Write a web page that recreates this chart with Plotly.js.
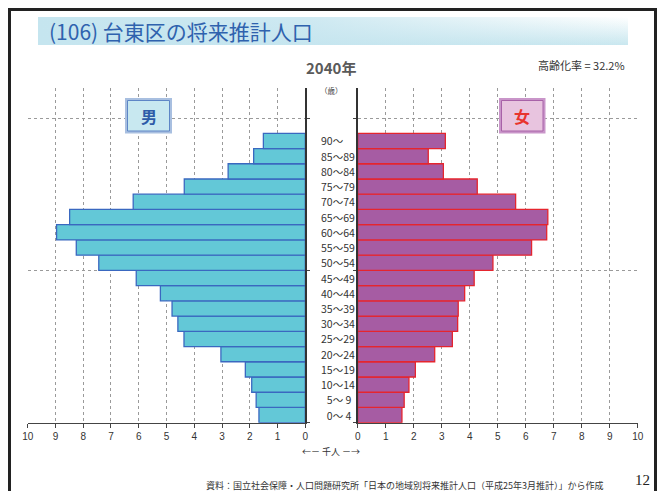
<!DOCTYPE html>
<html>
<head>
<meta charset="utf-8">
<script src="https://cdn.plot.ly/plotly-3.0.1.min.js"></script>
<style>
  html, body { margin: 0; padding: 0; background: #ffffff; }
  #wrap { position: relative; width: 668px; height: 491px; overflow: hidden; }
  #banner { position: absolute; left: 38px; top: 17px; width: 590px; height: 28px;
    background: linear-gradient(to right, #C5E5EF 0%, rgba(197,229,239,0.85) 45%, rgba(197,229,239,0) 100%),
                linear-gradient(to bottom, #FFFFFF 0%, #C9E7EF 100%); }
  #chart { position: absolute; left: 0; top: 0; width: 668px; height: 491px; }
</style>
</head>
<body>
<div id="wrap">
  <div id="banner"></div>
  <div id="chart"></div>
</div>
<script>
// ---- data ----
const ageGroups = ['0～ 4','5～ 9','10～14','15～19','20～24','25～29','30～34','35～39','40～44','45～49',
                   '50～54','55～59','60～64','65～69','70～74','75～79','80～84','85～89','90～'];
const maleValues = [1.67,1.77,1.93,2.16,3.04,4.37,4.59,4.80,5.22,6.09,
                    7.44,8.25,8.96,8.49,6.20,4.36,2.78,1.86,1.51];
const femaleValues = [1.58,1.66,1.83,2.06,2.75,3.38,3.57,3.59,3.82,4.16,
                      4.83,6.21,6.75,6.79,5.64,4.27,3.06,2.52,3.13];
const xTickValues = [0,1,2,3,4,5,6,7,8,9,10];
const titleText = '(106) 台東区の将来推計人口';
const yearText = '2040年';
const agingText = '高齢化率 = 32.2%';
const sourceText = '資料：国立社会保障・人口問題研究所「日本の地域別将来推計人口（平成25年3月推計）」から作成';
const pageNumber = '12';

// ---- helpers ----
const W = 668, H = 491;
const px = x => x / W;
const py = y => 1 - y / H;
const yIdx = ageGroups.map((_, i) => i);
const jp = '"Noto Sans CJK JP", sans-serif';
const num = '"Liberation Sans Narrow", "Liberation Sans", Arial, sans-serif';

const traces = [
  { type: 'bar', orientation: 'h', x: maleValues, y: yIdx, xaxis: 'x', yaxis: 'y',
    width: 1, marker: { color: '#63C8D7', line: { color: '#3A68C0', width: 1.3 } },
    hoverinfo: 'none', showlegend: false },
  { type: 'bar', orientation: 'h', x: femaleValues, y: yIdx, xaxis: 'x2', yaxis: 'y2',
    width: 1, marker: { color: '#A65CA3', line: { color: '#E5252E', width: 1.3 } },
    hoverinfo: 'none', showlegend: false }
];

const xCommon = {
  tickvals: xTickValues, ticktext: xTickValues.map(String),
  showgrid: true, gridcolor: '#9a9a9a', griddash: 'dot', gridwidth: 1,
  showline: true, linecolor: '#444', linewidth: 1.5,
  ticks: 'outside', ticklen: 4, tickcolor: '#444', tickwidth: 1,
  tickfont: { family: num, size: 10, color: '#333' },
  zeroline: false, fixedrange: true, automargin: false
};
const yCommon = {
  range: [-0.5, 21.5], tickvals: [-0.5, 9.5, 19.5], showticklabels: false,
  showgrid: true, gridcolor: '#9a9a9a', griddash: 'dot', gridwidth: 1,
  showline: true, linecolor: '#333', linewidth: 1.5,
  ticks: 'outside', ticklen: 3, tickcolor: '#444',
  zeroline: false, fixedrange: true, automargin: false,
  domain: [py(422.7), py(87.6)]
};

const annotations = [
  { text: titleText, x: px(47), y: py(31), xref: 'paper', yref: 'paper', xanchor: 'left', yanchor: 'middle',
    showarrow: false, font: { family: jp, size: 21, color: '#2F62AE' } },
  { text: '<b>' + yearText + '</b>', x: px(331), y: py(67), xref: 'paper', yref: 'paper', xanchor: 'center', yanchor: 'middle',
    showarrow: false, font: { family: jp, size: 15, color: '#5a5a5a' } },
  { text: agingText, x: px(627), y: py(65), xref: 'paper', yref: 'paper', xanchor: 'right', yanchor: 'middle',
    showarrow: false, font: { family: jp, size: 11, color: '#333333' } },
  { text: '（歳）', x: px(331), y: py(91), xref: 'paper', yref: 'paper', xanchor: 'center', yanchor: 'middle',
    showarrow: false, font: { family: jp, size: 7.5, color: '#444' } },
  { text: '←－ 千人 －→', x: px(331), y: py(451), xref: 'paper', yref: 'paper', xanchor: 'center', yanchor: 'middle',
    showarrow: false, font: { family: jp, size: 9, color: '#333' } },
  { text: sourceText, x: px(606), y: py(485), xref: 'paper', yref: 'paper', xanchor: 'right', yanchor: 'middle',
    showarrow: false, font: { family: jp, size: 9, color: '#333' } },
  { text: pageNumber, x: px(652), y: py(480), xref: 'paper', yref: 'paper', xanchor: 'right', yanchor: 'middle',
    showarrow: false, font: { family: '"Liberation Serif", serif', size: 15, color: '#222' } },
  { text: '<b>男</b>', x: px(148.5), y: py(116), xref: 'paper', yref: 'paper', xanchor: 'center', yanchor: 'middle',
    showarrow: false, font: { family: jp, size: 16, color: '#2E5CA8' } },
  { text: '<b>女</b>', x: px(522), y: py(116), xref: 'paper', yref: 'paper', xanchor: 'center', yanchor: 'middle',
    showarrow: false, font: { family: jp, size: 16, color: '#E8342E' } }
];
// age labels between the panels, positioned on the y axis scale
ageGroups.forEach((g, i) => {
  const single = /^\d～/.test(g);
  annotations.push({ text: (single ? '\u2007' : '') + g, x: px(319), y: i, xref: 'paper', yref: 'y',
    xanchor: 'left', yanchor: 'middle', showarrow: false,
    font: { family: jp, size: 10.5, color: '#333' } });
});

const shapes = [
  // frame
  { type: 'line', xref: 'paper', yref: 'paper', x0: px(9.5), x1: px(9.5), y0: py(8), y1: py(495), line: { color: '#222', width: 3 } },
  { type: 'line', xref: 'paper', yref: 'paper', x0: px(8), x1: px(657), y0: py(9.5), y1: py(9.5), line: { color: '#222', width: 3 } },
  { type: 'line', xref: 'paper', yref: 'paper', x0: px(655.5), x1: px(655.5), y0: py(8), y1: py(495), line: { color: '#222', width: 3 } },
  // male label box
  { type: 'rect', xref: 'paper', yref: 'paper', x0: px(125), x1: px(172), y0: py(133.5), y1: py(98), fillcolor: '#A8BFE0', line: { width: 0 }, layer: 'above' },
  { type: 'rect', xref: 'paper', yref: 'paper', x0: px(127.5), x1: px(169.5), y0: py(131), y1: py(100.5), fillcolor: '#C8E8F0', line: { color: '#5E86C6', width: 1 }, layer: 'above' },
  // female label box
  { type: 'rect', xref: 'paper', yref: 'paper', x0: px(499), x1: px(545.5), y0: py(133.5), y1: py(98), fillcolor: '#C995C9', line: { width: 0 }, layer: 'above' },
  { type: 'rect', xref: 'paper', yref: 'paper', x0: px(501.5), x1: px(543), y0: py(131), y1: py(100.5), fillcolor: '#E8C4DF', line: { color: '#A862A8', width: 1 }, layer: 'above' }
];

const layout = {
  width: W, height: H,
  margin: { l: 0, r: 0, t: 0, b: 0, pad: 0 },
  paper_bgcolor: 'rgba(0,0,0,0)', plot_bgcolor: '#ffffff',
  barmode: 'overlay', bargap: 0,
  xaxis: Object.assign({}, xCommon, { domain: [px(27.7), px(305.3)], range: [10, 0], anchor: 'y' }),
  yaxis: Object.assign({}, yCommon, { anchor: 'x', side: 'right' }),
  xaxis2: Object.assign({}, xCommon, { domain: [px(357.7), px(637.7)], range: [0, 10], anchor: 'y2' }),
  yaxis2: Object.assign({}, yCommon, { anchor: 'x2', side: 'left' }),
  annotations: annotations,
  shapes: shapes,
  showlegend: false
};

Plotly.newPlot('chart', traces, layout, { staticPlot: true, displayModeBar: false });
</script>
</body>
</html>
